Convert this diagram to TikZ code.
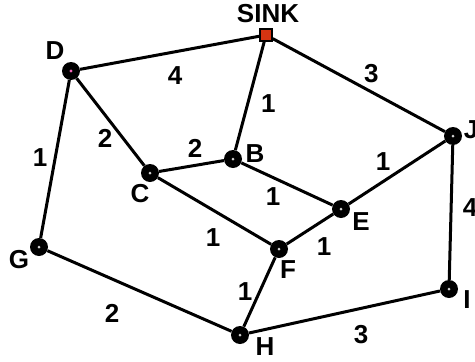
\documentclass[tikz,border=0pt]{standalone}
\usepackage{fontspec}
\setmainfont{Liberation Sans}
\usetikzlibrary{positioning}

\definecolor{sinkred}{RGB}{214,52,18}

\begin{document}
\begin{tikzpicture}[x=1pt, y=-1pt,
    vert/.style={circle, fill=black, inner sep=0pt, minimum size=18pt,
        path picture={\fill[gray!35] (path picture bounding box.center) circle (1.5pt);}},
    sinkbox/.style={rectangle, draw=black, line width=1.5pt, fill=sinkred, inner sep=0pt, minimum size=12pt},
    lbl/.style={font=\fontsize{26}{28}\selectfont\bfseries, inner sep=0pt},
    wt/.style={font=\fontsize{26}{28}\selectfont\bfseries, inner sep=0pt},
    edge/.style={line width=3pt}]
        \useasboundingbox (0,0) rectangle (475,362);

        % vertices
        \node (sink) [sinkbox] at (266,35) {};
        \node (D) [vert, path picture={\fill[magenta!60] (path picture bounding box.center) circle (1.7pt);}] at (71,71) {};
        \node (B) [vert] at (233,159) {};
        \node (C) [vert] at (150,173) {};
        \node (J) [vert] at (453,136) {};
        \node (E) [vert] at (341,209) {};
        \node (F) [vert] at (279,249) {};
        \node (G) [vert] at (39,247) {};
        \node (H) [vert] at (240,335) {};
        \node (I) [vert] at (449,289) {};

        % names
        \node (labsink) [lbl] at (268,14) {SINK};
        \node (labD) [lbl] at (55,51) {D};
        \node (labB) [lbl] at (255,154) {B};
        \node (labC) [lbl] at (140,194) {C};
        \node (labJ) [lbl] at (471,130) {J};
        \node (labE) [lbl] at (361,222) {E};
        \node (labF) [lbl] at (288,270) {F};
        \node (labG) [lbl] at (19,260) {G};
        \node (labH) [lbl] at (265,347) {H};
        \node (labI) [lbl] at (467,300) {I};

        % edges with weights
        \draw[edge] (D) -- node[wt, shift={(5.5,23)}] {4} (sink);
        \draw[edge] (sink) -- node[wt, shift={(12.5,-11.5)}] {3} (J);
        \draw[edge] (sink) -- node[wt, shift={(18.5,8)}] {1} (B);
        \draw[edge] (D) -- node[wt, shift={(-5.5,16)}] {2} (C);
        \draw[edge] (C) -- node[wt, shift={(3.5,-18)}] {2} (B);
        \draw[edge] (D) -- node[wt, shift={(-15,-1)}] {1} (G);
        \draw[edge] (B) -- node[wt, shift={(-14,13)}] {1} (E);
        \draw[edge] (C) -- node[wt, shift={(-1.5,27)}] {1} (F);
        \draw[edge] (F) -- node[wt, shift={(-14.5,0)}] {1} (H);
        \draw[edge] (E) -- node[wt, shift={(-14,-10.5)}] {1} (J);
        \draw[edge] (F) -- node[wt, shift={(14,18)}] {1} (E);
        \draw[edge] (J) -- node[wt, shift={(19,-4.5)}] {4} (I);
        \draw[edge] (H) -- node[wt, shift={(16.5,23)}] {3} (I);
        \draw[edge] (G) -- node[wt, shift={(-27.5,22)}] {2} (H);
    \end{tikzpicture}
\end{document}
